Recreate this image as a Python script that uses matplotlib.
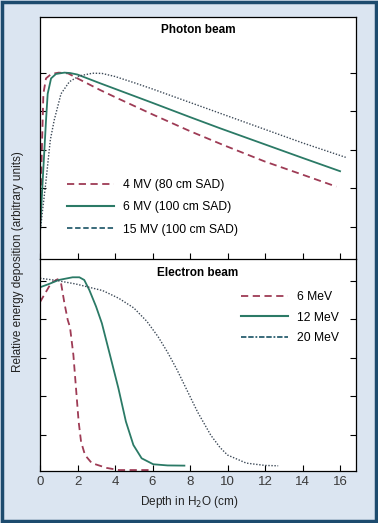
import matplotlib.pyplot as plt
from matplotlib.lines import Line2D
from matplotlib.patches import Rectangle

plt.rcParams['font.family'] = ['Liberation Sans', 'DejaVu Sans']

# photon beam depth dose
x_4mv = [0, 0.1, 0.18, 0.32, 0.6, 1.0, 1.5, 2, 3.2, 4, 6, 8, 9.8, 12, 14, 15.8]
y_4mv = [17, 60, 89, 97, 99.3, 100, 99.6, 97, 91, 87.3, 78.3, 69.6, 62.3, 53.8, 47, 40.8]

x_6mv = [0, 0.15, 0.32, 0.41, 0.59, 0.85, 1.3, 1.6, 2, 3.2, 6, 8, 9.6, 12, 14, 16]
y_6mv = [17, 45, 75, 89, 97, 99.3, 100, 99.8, 99, 94.5, 84.3, 76.9, 71.1, 62.7, 55.7, 48.8]

x_15mv = [0, 0.3, 0.55, 0.76, 1.12, 1.57, 2.1, 2.8, 3.3, 4, 5.1, 6, 8, 10, 12, 14, 16.3]
y_15mv = [17, 42, 65, 75.4, 89, 95.3, 98.3, 99.7, 99.6, 98, 94.5, 91.5, 84.5, 77.5, 70.5, 63.5, 56]

# electron beam depth dose
x_6mev = [0, 0.3, 0.6, 0.94, 1.12, 1.3, 1.48, 1.6, 1.78, 1.92, 2.06, 2.19, 2.4, 2.76, 3.56, 4.2, 5.9]
y_6mev = [89, 94, 99, 100.9, 99, 88.6, 79.7, 76, 61.6, 44.3, 27, 16.5, 9.6, 5.4, 2.9, 1.8, 1.8]

x_12mev = [0, 0.5, 1, 1.74, 2.1, 2.36, 2.63, 2.99, 3.3, 3.73, 4.18, 4.58, 4.98, 5.42, 6.04, 6.8, 7.7]
y_12mev = [96.7, 98.5, 100.5, 101.9, 101.9, 100.5, 95.3, 86.7, 78, 61.6, 44.3, 27, 14.8, 7.9, 4.8, 4.2, 4.1]

x_20mev = [0, 0.85, 1.92, 2.5, 3.34, 4.2, 5.0, 5.7, 6.3, 6.8, 7.3, 7.7, 8.4, 9.1, 9.6, 10, 11, 12, 12.7]
y_20mev = [101.4, 100.3, 98.4, 97, 95, 91, 86, 79, 71, 63, 54, 46, 32, 20, 13.5, 9.6, 5.4, 4.2, 4]

photon_labels = ['4 MV (80 cm SAD)', '6 MV (100 cm SAD)', '15 MV (100 cm SAD)']
electron_labels = ['6 MeV', '12 MeV', '20 MeV']
xticks = [0, 2, 4, 6, 8, 10, 12, 14, 16]
yticks = [20, 40, 60, 80, 100]

red = '#9e3b55'
green = '#2b7a66'
dotc = '#3d4a58'
teal = '#2a5f70'

fig = plt.figure(figsize=(3.78, 5.23), dpi=100)
fig.patch.set_facecolor('#dbe5f1')
fig.patches.append(Rectangle((0.004, 0.003), 0.992, 0.994, transform=fig.transFigure,
                             fill=False, edgecolor='#1d4b6e', linewidth=2.5))

ax1 = fig.add_axes([0.1058, 0.5048, 0.836, 0.4627])
ax2 = fig.add_axes([0.1058, 0.0994, 0.836, 0.4054])

ax1.plot(x_4mv, y_4mv, color=red, lw=1.3, dashes=(4, 2.5))
ax1.plot(x_6mv, y_6mv, color=green, lw=1.3)
ax1.plot(x_15mv, y_15mv, color=dotc, lw=1.0, dashes=(1, 1.2))
ax1.set_ylim(3.2, 128.9)

ax2.plot(x_6mev, y_6mev, color=red, lw=1.3, dashes=(4, 2.5))
ax2.plot(x_12mev, y_12mev, color=green, lw=1.3)
ax2.plot(x_20mev, y_20mev, color=dotc, lw=1.0, dashes=(1, 1.2))
ax2.set_ylim(1.3, 111.4)

for ax in (ax1, ax2):
    ax.set_xlim(0, 16.85)
    ax.set_xticks(xticks)
    ax.set_yticks(yticks)
    ax.set_yticklabels([])
    ax.tick_params(direction='in', length=4, width=0.8, left=True, right=True,
                   top=False, bottom=True, labelsize=9.5, labelcolor='#3a3a3a')
    for s in ax.spines.values():
        s.set_linewidth(0.9)
ax1.set_xticklabels([])
ax1.spines['bottom'].set_visible(False)

ax1.text(0.5, 0.945, 'Photon beam', transform=ax1.transAxes, ha='center', va='center',
         fontsize=8.5, fontweight='bold')
ax2.text(0.5, 0.935, 'Electron beam', transform=ax2.transAxes, ha='center', va='center',
         fontsize=8.5, fontweight='bold')

ph = [Line2D([], [], color=red, lw=1.3, dashes=(4, 2.5)),
      Line2D([], [], color=green, lw=1.5),
      Line2D([], [], color=teal, lw=1.3, dashes=(3, 1.5))]
ax1.legend(ph, photon_labels, loc='center left', bbox_to_anchor=(0.05, 0.2136), frameon=False,
           fontsize=8.7, handlelength=3.9, labelspacing=0.85, handletextpad=0.75)

el = [Line2D([], [], color=red, lw=1.3, dashes=(4, 2.5)),
      Line2D([], [], color=green, lw=1.5),
      Line2D([], [], color=teal, lw=1.3, dashes=(3, 1, 3, 1, 1, 1))]
ax2.legend(el, electron_labels, loc='center left', bbox_to_anchor=(0.602, 0.723), frameon=False,
           fontsize=8.7, handlelength=3.9, labelspacing=0.7, handletextpad=0.75)

fig.text(0.5, 0.04, 'Depth in H$_2$O (cm)', ha='center', va='center', fontsize=8.5, color='#222222')
fig.text(0.048, 0.5, 'Relative energy deposition (arbitrary units)', rotation=90,
         ha='center', va='center', fontsize=8.5, color='#222222')

fig.savefig('out.png', dpi=100, facecolor=fig.get_facecolor())
